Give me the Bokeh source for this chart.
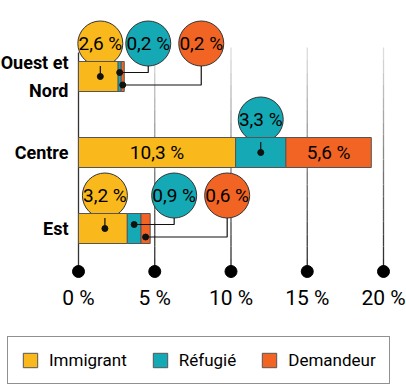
import numpy as np
from bokeh.plotting import figure
from bokeh.models import ColumnDataSource, Range1d, Legend, LegendItem
from bokeh.core.properties import value
from bokeh.embed import file_html
from bokeh.resources import INLINE

# ---------------- data ----------------
regions = ["Ouest et\nNord", "Centre", "Est"]
immigrant = [2.6, 10.3, 3.2]
refugie = [0.2, 3.3, 0.9]
demandeur = [0.2, 5.6, 0.6]
series_names = ["Immigrant", "Réfugié", "Demandeur"]
x_ticks = [0, 5, 10, 15, 20]
x_tick_labels = ["0 %", "5 %", "10 %", "15 %", "20 %"]

# ---------------- style / layout ----------------
colors = ["#F9B81B", "#14A9B4", "#F26423"]
FONT = "Roboto"
W, H = 406, 386
X0_PX = 78            # canvas px where 0 % sits
PX_PER_PCT = 15.25
ROW_PX = 76
Y0_PX = 158           # canvas px (from bottom) of the last row centre


def xpx(px):
    return px / PX_PER_PCT


def ypx(px):
    return px / ROW_PX


def fmt(v):
    return ("%.1f" % v).replace(".", ",") + " %"


p = figure(width=W, height=H, output_backend="svg", toolbar_location=None,
           x_range=Range1d(-X0_PX / PX_PER_PCT, (W - X0_PX) / PX_PER_PCT),
           y_range=Range1d(-Y0_PX / ROW_PX, (H - Y0_PX) / ROW_PX),
           x_axis_location=None, y_axis_location=None, min_border=0)
p.grid.visible = False
p.outline_line_color = None
p.background_fill_color = "white"

n = len(regions)
ys = [n - 1 - i for i in range(n)]
top_row = max(ys)
bottom_row = min(ys)

# ---------------- grid lines with gradient ----------------
g_top = top_row + ypx(29)
g_top0 = top_row + ypx(24)
g_bot = bottom_row - ypx(43)
npieces = 18
light = np.array([0xE2, 0xE2, 0xE2])
dark = np.array([0x22, 0x22, 0x22])
sx0, sy0, sx1, sy1, scol = [], [], [], [], []
for t in x_ticks:
    if t == 0:
        sx0.append(t); sx1.append(t); sy0.append(g_top0); sy1.append(g_bot)
        scol.append("#333333")
        continue
    edges = np.linspace(g_top, g_bot, npieces + 1)
    for k in range(npieces):
        f = (k + 0.5) / npieces
        c = (light * (1 - f) + dark * f).astype(int)
        sx0.append(t); sx1.append(t); sy0.append(edges[k]); sy1.append(edges[k + 1])
        scol.append("#%02x%02x%02x" % tuple(c))
p.segment(x0=sx0, y0=sy0, x1=sx1, y1=sy1, line_color=scol, line_width=1.3)
p.scatter(x=x_ticks, y=[g_bot] * len(x_ticks), size=12, color="black")
p.text(x=x_ticks, y=[bottom_row - ypx(69)] * len(x_ticks), text=x_tick_labels,
       text_font=value(FONT), text_font_size="21px", text_align="center",
       text_baseline="middle", text_color="#000000")

# ---------------- compute bubbles ----------------
vals = [immigrant, refugie, demandeur]
BUB_UP = ypx(33)
BUB_R = ypx(22.5)
OUT_OFFSETS = [24, 77]
DOT_DY = [0, -4, 8.5]
b_x, b_y, b_txt, b_col = [], [], [], []
c_xs, c_ys = [], []
d_x, d_y = [], []
in_x, in_y, in_txt = [], [], []
for i in range(n):
    row_vals = [v[i] for v in vals]
    total = sum(row_vals)
    left = 0.0
    k_out = 0
    for s, v in enumerate(row_vals):
        center = left + v / 2
        if v >= 5:
            in_x.append(center); in_y.append(ys[i]); in_txt.append(fmt(v))
        else:
            if v * PX_PER_PCT >= 35:
                bx = center + (xpx(2) if s == 0 else 0)
                dx, dy = bx, ys[i]
            else:
                bx = total + xpx(OUT_OFFSETS[k_out])
                k_out += 1
                dx, dy = center, ys[i] + ypx(-DOT_DY[s])
            by = ys[i] + BUB_UP
            b_x.append(bx); b_y.append(by); b_txt.append(fmt(v)); b_col.append(colors[s])
            c_xs.append([bx, bx, dx]); c_ys.append([by - BUB_R, dy, dy])
            d_x.append(dx); d_y.append(dy)
        left += v

# bubbles (below the bars)
p.scatter(x=b_x, y=b_y, size=45, fill_color=b_col, line_color="#333333", line_width=1)

# ---------------- bars ----------------
src = ColumnDataSource(dict(y=ys, Immigrant=immigrant, Refugie=refugie, Demandeur=demandeur))
rs = p.hbar_stack(["Immigrant", "Refugie", "Demandeur"], y="y", height=ypx(30),
                  fill_color=colors, line_color="#555555", line_width=1, source=src)

# connectors and dots
p.multi_line(xs=c_xs, ys=c_ys, line_color="#111111", line_width=1.2)
p.scatter(x=d_x, y=d_y, size=6, color="#111111")

# bubble texts and in-bar labels
p.text(x=b_x, y=b_y, text=b_txt, text_font=value(FONT), text_font_size="19px",
       text_align="center", text_baseline="middle", text_color="#000000")
p.text(x=in_x, y=in_y, text=in_txt, text_font=value(FONT), text_font_size="19px",
       text_align="center", text_baseline="middle", text_color="#000000")

# category labels
p.text(x=[-xpx(10)] * n, y=ys, text=regions, text_font=value(FONT), text_font_size="18px",
       text_font_style="bold", text_align="right", text_baseline="middle",
       text_line_height=1.3, text_color="#000000")

# ---------------- legend ----------------
legend = Legend(items=[LegendItem(label=series_names[k], renderers=[rs[k]]) for k in range(3)],
                orientation="horizontal", location=(7, 2), margin=0,
                padding=13, spacing=24, label_standoff=10,
                glyph_width=18, glyph_height=18, label_height=18,
                label_text_font=FONT, label_text_font_size="17px",
                label_text_color="#000000",
                border_line_color="#222222", border_line_width=1.2,
                background_fill_alpha=1.0)
p.add_layout(legend)

open("out.html", "w").write(file_html(p, INLINE))
